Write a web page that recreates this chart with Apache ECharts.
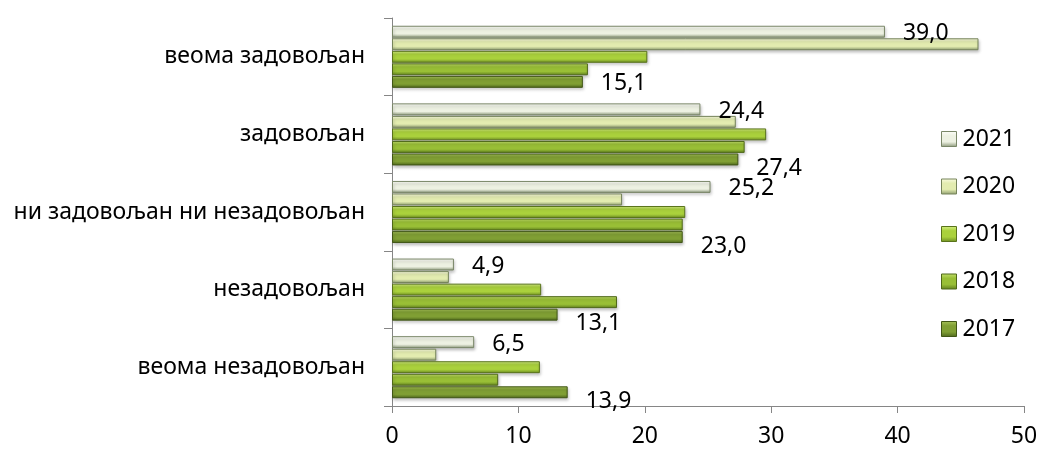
<!DOCTYPE html>
<html>
<head>
<meta charset="utf-8">
<script src="https://cdn.jsdelivr.net/npm/echarts@6/dist/echarts.min.js"></script>
<style>
  html, body { margin: 0; padding: 0; background: #ffffff; }
  #chart { width: 1045px; height: 451px; }
</style>
</head>
<body>
<div id="chart"></div>
<script>
// Satisfaction levels, top to bottom
const categories = [
  'веома задовољан',
  'задовољан',
  'ни задовољан ни незадовољан',
  'незадовољан',
  'веома незадовољан'
];
const years = ['2021', '2020', '2019', '2018', '2017'];
const values2021 = [39.0, 24.4, 25.2, 4.9, 6.5];
const values2020 = [46.4, 27.2, 18.2, 4.5, 3.5];
const values2019 = [20.2, 29.6, 23.2, 11.8, 11.7];
const values2018 = [15.5, 27.9, 23.0, 17.8, 8.4];
const values2017 = [15.1, 27.4, 23.0, 13.1, 13.9];
const xTicks = [0, 10, 20, 30, 40, 50];

const FONT = 'Noto Sans';
const FS = 23;

// Bevel-like vertical gradients for each year
function grad(top, mid, bottom) {
  return new echarts.graphic.LinearGradient(0, 0, 0, 1, [
    { offset: 0, color: top },
    { offset: 0.3, color: mid },
    { offset: 0.68, color: mid },
    { offset: 1, color: bottom }
  ]);
}
const styles = {
  '2021': { color: grad('#fdfefa', '#edf1e2', '#8a9778'), border: '#7a8768' },
  '2020': { color: grad('#fafce2', '#e3ecb0', '#8b9a6e'), border: '#76845b' },
  '2019': { color: grad('#d6ef86', '#aad13c', '#6c8c22'), border: '#59731b' },
  '2018': { color: grad('#c3e06c', '#99bf36', '#5f7e1e'), border: '#4f6819' },
  '2017': { color: grad('#a7c35a', '#809f34', '#4d661c'), border: '#415616' }
};
const seriesValues = {
  '2021': values2021,
  '2020': values2020,
  '2019': values2019,
  '2018': values2018,
  '2017': values2017
};

function fmt(p) {
  return p.value.toFixed(1).replace('.', ',');
}

function labelStyle(offsetY) {
  return {
    show: true, position: 'right', distance: 18, offset: [0, offsetY],
    formatter: fmt, color: '#000', fontFamily: FONT, fontSize: FS
  };
}

const series = years.map(function (y) {
  const data = seriesValues[y];
  const s = {
    name: y,
    type: 'bar',
    data: data,
    barCategoryGap: '20%',
    barGap: '5%',
    itemStyle: {
      color: styles[y].color,
      borderColor: styles[y].border,
      borderWidth: 1,
      shadowColor: 'rgba(0,0,0,0.25)',
      shadowBlur: 3,
      shadowOffsetX: 1,
      shadowOffsetY: 2
    },
    emphasis: { disabled: true },
    label: { show: false }
  };
  if (y === '2021') {
    s.label = labelStyle(2);
  }
  if (y === '2017') {
    s.label = labelStyle(9);
    // the first label in this series sits level with its bar
    s.data = data.map(function (v, i) {
      return i === 0 ? { value: v, label: { offset: [0, 2] } } : v;
    });
  }
  return s;
});

const chart = echarts.init(document.getElementById('chart'), null, { renderer: 'canvas' });
chart.setOption({
  animation: false,
  backgroundColor: '#ffffff',
  textStyle: { fontFamily: FONT },
  grid: { left: 392, right: 21, top: 18, bottom: 45, containLabel: false },
  legend: {
    data: years,
    orient: 'vertical',
    left: 941,
    top: 127,
    padding: 0,
    itemWidth: 15,
    itemHeight: 15,
    itemGap: 23.5,
    itemStyle: { borderWidth: 1 },
    icon: 'rect',
    selectedMode: false,
    textStyle: { fontFamily: FONT, fontSize: FS, color: '#000', lineHeight: 24, padding: [0, 0, 0, 1] }
  },
  xAxis: {
    type: 'value',
    min: xTicks[0],
    max: xTicks[xTicks.length - 1],
    interval: xTicks[1] - xTicks[0],
    axisLine: { show: true, lineStyle: { color: '#868686', width: 1 } },
    axisTick: { show: true, length: 7, lineStyle: { color: '#868686' } },
    splitLine: { show: false },
    axisLabel: { margin: 19, fontFamily: FONT, fontSize: FS, color: '#000' }
  },
  yAxis: {
    type: 'category',
    data: categories,
    inverse: true,
    axisLine: { show: true, lineStyle: { color: '#868686', width: 1 } },
    axisTick: { show: true, length: 8, alignWithLabel: false, lineStyle: { color: '#868686' } },
    axisLabel: { margin: 27, fontFamily: FONT, fontSize: FS, color: '#000' }
  },
  series: series
});
</script>
</body>
</html>
